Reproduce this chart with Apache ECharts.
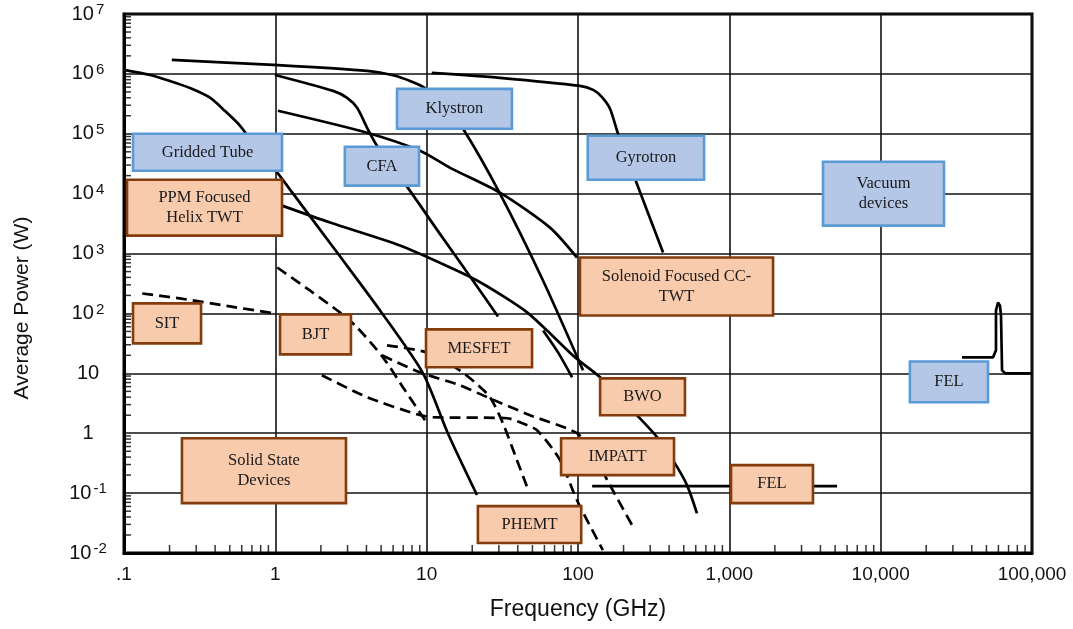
<!DOCTYPE html>
<html>
<head>
<meta charset="utf-8">
<script src="https://cdn.jsdelivr.net/npm/echarts@6/dist/echarts.min.js"></script>
<style>
html,body{margin:0;padding:0;background:#fff;}
#chart{width:1073px;height:629px;}
</style>
</head>
<body>
<div id="chart"></div>
<script>
// ---- tick labels ----
const xTickLabels = ['.1', '1', '10', '100', '1,000', '10,000', '100,000']; // exponents -1..5
const yTickLabels = ['10{s|-2}', '10{s|-1}', '1', '10', '10{s|2}', '10{s|3}', '10{s|4}', '10{s|5}', '10{s|6}', '10{s|7}']; // exponents -2..7

// ---- solid curves [frequency GHz, power W] ----
const griddedTube = [[0.1,1.17e6],[0.149,9.6e5],[0.201,7.6e5],[0.273,5.8e5],[0.37,4.0e5],[0.465,2.4e5],[0.585,1.36e5],[0.734,6.3e4],[1.03,2.24e4],[1.31,1.0e4],[2.59,1000],[4.92,112],[9.46,10],[13.8,1],[21.5,0.093]];
const klystron = [[0.207,1.71e6],[0.97,1.41e6],[4.04,1.12e6],[6.18,9.3e5],[7.76,7.6e5],[9.75,5.8e5],[13.2,2.9e5],[17.4,1.21e5],[30.5,1e4],[58.7,355],[108,11.2]];
const gyrotron = [[10.8,1.04e6],[30.5,8.6e5],[103,6.3e5],[126,5.4e5],[144,4.1e5],[163,2.6e5],[184,1e5],[238,1.78e4],[365,1040]];
const cfa = [[0.995,9.6e5],[2.41,5.2e5],[2.98,3.98e5],[3.47,2.71e5],[4.04,1.26e5],[4.70,6.3e4],[7.42,1.31e4],[12.2,2150],[20.2,355],[29.6,89]];
const solenoidTwt = [[1.04,2.42e5],[4.04,1.04e5],[9.04,5.2e4],[14.3,2.7e4],[30.5,1.04e4],[65.3,2710],[98.5,857]];
const ppmTwt = [[1.107,6310],[2.30,3290],[6.67,1360],[14.3,585],[21.5,355],[33.0,185],[46.1,104],[62.4,52],[95.5,18.5],[140,8.6],[245,2.0],[333,0.86],[424,0.355],[525,0.136],[611,0.046]];
const bwoStub = [[58.8,52],[73.8,22.4],[91.4,8.6]];
const felLow = [[124,0.131],[5150,0.131]];
const felHigh = [[34500,18.5],[55300,18.5],[57800,24.2],[57800,112],[59600,152],[61400,136],[62400,92.6],[63400,11.2],[66400,10],[100000,10]];

// ---- dashed curves (solid state) ----
const sit = [[0.132,215],[0.234,178],[0.501,131],[0.995,100]];
const bjt = [[1.03,585],[1.69,242],[2.67,104],[3.47,58.4],[5.14,18.5],[7.19,5.2],[9.75,1.65]];
const mesfet = [[5.47,29.3],[10.0,22.4],[15.8,12.1],[20.8,7.1],[26.2,4.0],[31.9,1.47],[38.4,0.43],[46.1,0.126]];
const impatt = [[5.07,20],[9.04,10.4],[16.6,6.3],[25.1,4.0],[48.2,2.0],[98.4,1],[129,0.43],[156,0.165],[228,0.029]];
const phemt = [[2.03,9.3],[4.04,4.0],[8.63,2.07],[11.0,1.85],[34.0,1.78],[41.4,1.52],[53.6,1.12],[76.1,0.355],[98.5,0.076],[146,0.0112]];

// ---- annotation boxes: [f left, P top, f right, P bottom] ----
const boxLabels = ['Gridded Tube','Klystron','CFA','Gyrotron','Vacuum\ndevices','FEL','PPM Focused\nHelix TWT','SIT','BJT','MESFET','Solenoid Focused CC-\nTWT','BWO','IMPATT','PHEMT','FEL','Solid State\nDevices'];
const boxKind = ['vac','vac','vac','vac','vac','vac','ss','ss','ss','ss','ss','ss','ss','ss','ss','ss'];
const boxFreqLeft  = [0.1147, 6.37, 2.88, 116, 4160, 15600, 0.1047, 0.1147, 1.074, 9.9, 103, 140, 77.3, 21.8, 1026, 0.2415];
const boxFreqRight = [1.107, 36.6, 8.9, 681, 26200, 51200, 1.107, 0.323, 3.16, 49.7, 1945, 509, 431, 105, 3570, 2.93];
const boxPowTop    = [1e5, 5.62e5, 6.07e4, 9.27e4, 3.41e4, 15.8, 1.71e4, 147, 96.2, 54.1, 858, 8.25, 0.826, 0.0607, 0.293, 0.826];
const boxPowBottom = [2.42e4, 1.21e5, 1.36e4, 1.71e4, 2930, 3.29, 1995, 31.6, 20.7, 12.6, 92.6, 2.0, 0.2, 0.0147, 0.068, 0.068];

// ---- minor tick positions (axis decoration) ----
const minorMult = [2,3,4,5,6,7,8,9];
const xMinor = [], yMinor = [];
for (let k = -1; k <= 4; k++) minorMult.forEach(m => xMinor.push([m * Math.pow(10, k), 0.01]));
for (let k = -2; k <= 6; k++) minorMult.forEach(m => yMinor.push([0.1, m * Math.pow(10, k)]));

const chart = echarts.init(document.getElementById('chart'), null, {renderer: 'canvas'});

function solid(name, data, smooth) {
  return {name, type: 'line', data, symbol: 'none', smooth: smooth === undefined ? 0.25 : smooth,
    lineStyle: {color: '#000', width: 2.7}, z: 3, silent: true, animation: false};
}
function dashed(name, data) {
  return {name, type: 'line', data, symbol: 'none', smooth: 0.25,
    lineStyle: {color: '#000', width: 2.7, type: [11, 6]}, z: 3, silent: true, animation: false};
}

const boxData = boxLabels.map((_, i) => [boxFreqLeft[i], boxPowTop[i], boxFreqRight[i], boxPowBottom[i]]);

const option = {
  backgroundColor: '#fff',
  animation: false,
  grid: {left: 124, right: 41, top: 14, bottom: 76, show: true, borderColor: '#000', borderWidth: 3, backgroundColor: 'transparent'},
  xAxis: {
    type: 'log', logBase: 10, min: 0.1, max: 100000, splitNumber: 6,
    axisLine: {show: true, lineStyle: {color: '#000', width: 3}},
    axisTick: {show: false},
    splitLine: {show: true, lineStyle: {color: '#111', width: 1.6}},
    axisLabel: {
      margin: 12, color: '#111', fontSize: 19, fontFamily: '"Liberation Sans Narrow", "Liberation Sans", Arial, sans-serif',
      formatter: v => { const e = Math.round(Math.log10(v)); return xTickLabels[e + 1] || ''; },
      showMinLabel: true, showMaxLabel: true
    }
  },
  yAxis: {
    type: 'log', logBase: 10, min: 0.01, max: 1e7, splitNumber: 9,
    axisLine: {show: true, lineStyle: {color: '#000', width: 3}},
    axisTick: {show: false},
    splitLine: {show: true, lineStyle: {color: '#111', width: 1.6}},
    axisLabel: {
      margin: 36, align: 'center', color: '#111', fontSize: 20, fontFamily: '"Liberation Sans", Arial, sans-serif',
      formatter: v => { const e = Math.round(Math.log10(v)); return yTickLabels[e + 2] || ''; },
      rich: {s: {fontSize: 15, verticalAlign: 'top', padding: [0, 0, 8, 2], fontFamily: '"Liberation Sans", Arial, sans-serif', color: '#111'}},
      showMinLabel: true, showMaxLabel: true
    }
  },
  graphic: [
    {type: 'text', rotation: Math.PI / 2, x: 22, y: 308,
     style: {text: 'Average Power (W)', fontSize: 21, fontFamily: '"Liberation Sans", Arial, sans-serif', fill: '#111', align: 'center', verticalAlign: 'middle'}},
    {type: 'text', x: 578, y: 610,
     style: {text: 'Frequency (GHz)', fontSize: 23, fontFamily: '"Liberation Sans", Arial, sans-serif', fill: '#111', align: 'center', verticalAlign: 'middle'}}
  ],
  series: [
    solid('Gridded Tube', griddedTube),
    solid('Klystron', klystron),
    solid('Gyrotron', gyrotron),
    solid('CFA', cfa),
    solid('Solenoid Focused CC-TWT', solenoidTwt),
    solid('PPM Focused Helix TWT', ppmTwt),
    solid('BWO', bwoStub),
    solid('FEL', felLow, false),
    solid('FEL high', felHigh, false),
    dashed('SIT', sit),
    dashed('BJT', bjt),
    dashed('MESFET', mesfet),
    dashed('IMPATT', impatt),
    dashed('PHEMT', phemt),
    {type: 'scatter', data: xMinor, symbol: 'rect', symbolSize: [1.5, 8], symbolOffset: [0, -4], itemStyle: {color: '#000'}, silent: true, z: 4},
    {type: 'scatter', data: yMinor, symbol: 'rect', symbolSize: [7, 1.5], symbolOffset: [3.5, 0], itemStyle: {color: '#000'}, silent: true, z: 4},
    {
      type: 'custom', data: boxData, encode: {x: [0, 2], y: [1, 3]}, z: 10, silent: true, clip: false,
      renderItem: (params, api) => {
        const i = params.dataIndex;
        const p1 = api.coord([api.value(0), api.value(1)]);
        const p2 = api.coord([api.value(2), api.value(3)]);
        const vac = boxKind[i] === 'vac';
        return {
          type: 'group',
          children: [
            {type: 'rect', shape: {x: p1[0], y: p1[1], width: p2[0] - p1[0], height: p2[1] - p1[1]},
             style: {fill: vac ? '#b4c7e7' : '#f8cbad', stroke: vac ? '#5b9bd5' : '#843c0c', lineWidth: 2.6}},
            {type: 'text', x: (p1[0] + p2[0]) / 2, y: (p1[1] + p2[1]) / 2,
             style: {text: boxLabels[i], fill: '#1a1a1a', fontSize: 16.5, fontFamily: '"Liberation Serif", "Times New Roman", serif',
                     align: 'center', verticalAlign: 'middle', textAlign: 'center', textVerticalAlign: 'middle', lineHeight: 20}}
          ]
        };
      }
    }
  ]
};
chart.setOption(option);
</script>
</body>
</html>
